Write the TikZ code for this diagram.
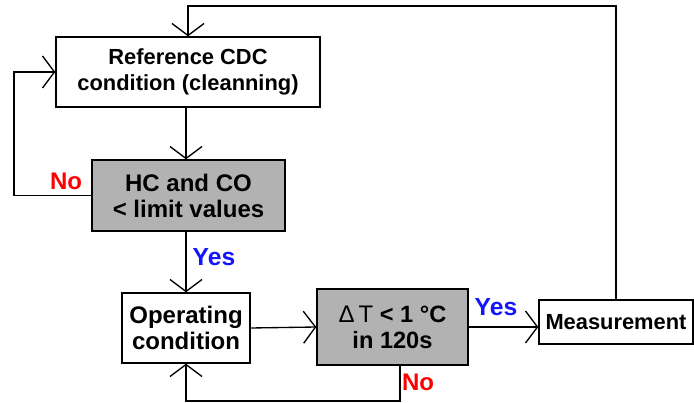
\documentclass[tikz,border=0pt]{standalone}
\usepackage{fontspec}
\setmainfont{Liberation Sans}
\usetikzlibrary{arrows.meta}

\definecolor{boxgray}{RGB}{178,178,178}
\definecolor{yesblue}{RGB}{20,20,255}

\tikzset{
    box/.style={draw, line width=1pt, align=center, inner sep=0pt,
        font=\fontsize{18}{19.5}\selectfont\bfseries},
    smallbox/.style={box, font=\fontsize{16.4}{19}\selectfont\bfseries},
    decision/.style={box, fill=boxgray},
    arr/.style={line width=1pt, -{Straight Barb[length=9pt,width=24pt]}},
    yes/.style={text=yesblue, font=\fontsize{18.5}{19}\selectfont\bfseries},
    no/.style={text=red, font=\fontsize{18}{19}\selectfont\bfseries},
}

\begin{document}
\begin{tikzpicture}[x=0.75pt, y=-0.75pt]
    \useasboundingbox (0,0) rectangle (694,403);

    % Define the boxes
    \node[smallbox, minimum width=198pt, minimum height=52.5pt] (ref) at (188,72)
        {Reference CDC\\condition (cleanning)};
    \node[decision, minimum width=144.75pt, minimum height=53.25pt] (hc) at (188.5,195.5)
        {HC and CO\\\textless{} limit values};
    \node[box, minimum width=96pt, minimum height=52.5pt] (op) at (186,328)
        {Operating\\condition};
    \node[decision, font=\fontsize{17.7}{19.5}\selectfont\bfseries,
        minimum width=113.25pt, minimum height=57pt] (dt) at (392.5,327)
        {{\mdseries\fontsize{18}{19.5}\selectfont Δ\,T} \textless{} 1 °C\\in 120s};
    \node[smallbox, minimum width=115.5pt, minimum height=33pt] (meas) at (616,322)
        {Measurement};

    % Helper points for the loops
    \coordinate (top) at (0,6);
    \coordinate (lft) at (14,130);
    \coordinate (bot) at (0,401);

    % Draw the connectors
    \draw[arr] (meas.north) |- (top -| ref.north) -- (ref.north);
    \draw[arr] (ref.south -| op.north) -- (hc.north -| op.north);
    \draw[arr] (hc.west) -| (lft) |- (ref.west);
    \draw[arr] (hc.south -| op.north) -- (op.north);
    \draw[arr] (op.east) -- (dt.west);
    \draw[arr] (dt.east) -- (dt.east -| meas.west);
    \draw[arr] ([xshift=5.5]dt.south) |- (op.south |- bot) -- (op.south);

    % Place the labels
    \node[no] (no1) at (66,181) {No};
    \node[yes] (yes1) at (214,257) {Yes};
    \node[yes] (yes2) at (496,307) {Yes};
    \node[no] (no2) at (418,382) {No};
\end{tikzpicture}
\end{document}
